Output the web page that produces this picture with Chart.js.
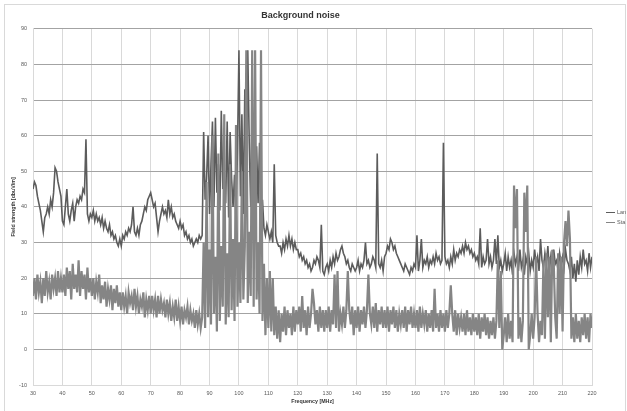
<!DOCTYPE html>
<html>
<head>
<meta charset="utf-8">
<script src="https://cdn.jsdelivr.net/npm/chart.js@4"></script>
<style>
  body { margin: 0; background: #fff; }
  canvas { display: block; }
</style>
</head>
<body>
<canvas id="noise" width="627" height="411"></canvas>
<script>
// Background noise scan, 30 - 220 MHz, one reading every 0.5 MHz
const freqStart = 30;
const freqStep = 0.5;

// "Lan" series, one row per 10 MHz
const lanValues = [
  45,47,46,43,41,39,36,33,37,38,40,38,42,40,44,51,50,47,45,43,   // 30
  36,35,40,45,38,36,39,41,36,40,42,41,43,42,45,44,59,38,36,38,   // 40
  37,39,36,38,36,37,35,37,34,36,34,33,35,32,33,31,32,30,29,31,   // 50
  29,32,31,33,32,34,33,35,40,33,32,34,32,35,36,38,40,39,42,43,   // 60
  44,42,40,41,37,33,36,38,40,38,39,37,42,38,40,37,38,36,35,34,   // 70
  36,34,35,32,33,31,32,30,31,29,30,31,30,32,31,32,61,42,48,60,   // 80
  38,52,64,40,65,44,52,39,67,45,48,41,64,37,61,48,40,49,36,56,   // 90
  84,43,66,38,73,45,84,58,40,69,47,54,57,41,58,37,42,34,32,35,   // 100
  33,31,33,30,52,32,30,29,29,27,30,28,31,29,32,29,31,28,30,28,   // 110
  28,26,27,25,26,24,25,23,24,22,23,25,24,26,25,23,35,22,21,23,   // 120
  24,22,25,23,26,24,27,25,26,28,29,27,26,24,25,23,22,24,23,22,   // 130
  23,25,22,24,23,25,30,24,25,23,24,26,25,23,55,24,23,25,22,26,   // 140
  27,29,28,31,30,28,29,27,26,25,24,23,22,24,23,22,21,23,22,24,   // 150
  23,32,22,25,31,23,25,24,26,23,25,24,26,24,27,25,26,24,25,58,   // 160
  26,24,25,23,26,24,28,25,27,26,28,27,29,27,30,28,29,27,28,26,   // 170
  27,25,26,24,34,23,26,24,25,31,24,26,23,25,31,24,32,23,25,22,   // 180
  24,27,22,26,23,25,21,27,24,26,22,28,23,25,21,26,24,27,22,25,   // 190
  23,28,24,26,22,31,25,23,27,24,29,22,26,23,28,24,25,22,27,24,   // 200
  26,23,28,25,24,22,26,20,24,19,25,21,26,23,28,24,25,22,27,23,   // 210
  26                                                             // 220
];

// "Sta" series
const staValues = [
  15,20,14,21,16,19,13,20,15,22,16,19,14,21,17,20,15,22,16,20,   // 30
  16,21,15,23,17,22,14,24,17,21,16,25,15,22,17,21,14,23,16,20,   // 40
  15,20,14,19,16,21,13,18,14,19,12,17,14,18,11,17,13,18,12,16,   // 50
  11,16,12,15,10,16,13,15,11,17,12,15,10,14,12,16,9,14,11,15,    // 60
  10,15,11,14,9,15,10,14,11,13,9,14,10,13,8,12,9,14,8,12,        // 70
  8,12,7,11,9,12,7,11,8,10,6,11,7,10,6,9,30,6,47,9,              // 80
  28,7,60,10,26,5,55,8,29,12,66,7,27,9,52,11,31,8,63,12,         // 90
  30,13,50,14,29,84,13,33,15,84,12,84,14,30,10,84,8,24,4,20,     // 100
  6,22,5,20,4,12,3,11,2,10,5,12,4,11,6,10,4,12,5,11,             // 110
  7,12,5,15,6,11,4,12,6,10,17,13,7,11,5,12,6,11,5,11,            // 120
  6,12,5,11,7,21,6,22,5,10,7,12,6,11,22,11,7,12,4,11,            // 130
  6,12,5,11,7,12,6,11,21,10,7,12,6,13,5,11,7,12,6,11,            // 140
  6,12,5,11,7,12,6,11,5,10,7,11,6,12,5,11,7,12,6,10,             // 150
  6,11,5,12,6,10,7,11,5,10,6,11,5,17,6,10,5,11,6,10,             // 160
  5,11,6,10,18,10,5,11,4,10,6,9,5,10,4,11,5,9,4,10,              // 170
  5,9,4,10,3,9,5,10,4,9,3,8,4,9,3,8,25,6,22,0,                   // 180
  4,9,2,10,3,8,2,46,34,45,3,9,2,8,44,33,46,0,4,10,               // 190
  3,9,26,10,2,8,4,25,3,27,9,26,2,28,24,9,3,27,10,26,             // 200
  5,30,36,29,39,31,3,9,2,10,3,8,2,9,4,10,3,9,2,10,               // 210
  6                                                              // 220
];

const seriesNames = ['Lan', 'Sta'];
const seriesColors = ['#5c5c5c', '#858585'];
const seriesWidths = [1.6, 2.2];

const freqs = lanValues.map((_, i) => freqStart + i * freqStep);
const toPoints = vals => vals.map((v, i) => ({ x: freqs[i], y: v }));

const labelFont = { family: 'Liberation Sans, Arial, sans-serif', size: 5.5 };
const titleFont = { family: 'Liberation Sans, Arial, sans-serif', size: 5.3, weight: 'bold' };

// thin frame round the whole chart + small legend on the right
const frameAndLegend = {
  id: 'frameAndLegend',
  afterDraw(chart) {
    const ctx = chart.ctx;
    ctx.save();
    ctx.strokeStyle = '#d9d9d9';
    ctx.lineWidth = 1;
    ctx.strokeRect(4.5, 4.5, 621, 410);

    ctx.font = '5.5px Liberation Sans, Arial, sans-serif';
    ctx.textBaseline = 'middle';
    ctx.fillStyle = '#595959';
    chart.data.datasets.forEach((ds, i) => {
      const y = 212.5 + i * 10;
      ctx.strokeStyle = ds.borderColor;
      ctx.lineWidth = 1;
      ctx.beginPath();
      ctx.moveTo(606, y);
      ctx.lineTo(615, y);
      ctx.stroke();
      ctx.fillText(ds.label, 617, y);
    });
    ctx.restore();
  }
};

new Chart(document.getElementById('noise'), {
  type: 'line',
  data: {
    datasets: [
      { label: seriesNames[0], data: toPoints(lanValues), borderColor: seriesColors[0], borderWidth: seriesWidths[0], order: 1 },
      { label: seriesNames[1], data: toPoints(staValues), borderColor: seriesColors[1], borderWidth: seriesWidths[1], order: 0 }
    ]
  },
  options: {
    responsive: false,
    animation: false,
    events: [],
    elements: {
      line: { tension: 0, borderJoinStyle: 'miter', borderCapStyle: 'butt' },
      point: { radius: 0 }
    },
    layout: { padding: { left: 9, right: 35, top: 0, bottom: 2 } },
    scales: {
      x: {
        type: 'linear',
        min: 30,
        max: 220,
        ticks: { stepSize: 10, padding: 5, color: '#595959', font: labelFont, maxRotation: 0 },
        grid: { color: '#d9d9d9', drawTicks: false },
        border: { color: '#d9d9d9' },
        title: { display: true, text: 'Frequency [MHz]', color: '#333', font: titleFont, padding: { top: 0, bottom: 4 } },
        afterFit(scale) { scale.height = 24; }
      },
      y: {
        min: -10,
        max: 90,
        ticks: { stepSize: 10, padding: 6, color: '#595959', font: labelFont },
        grid: {
          drawTicks: false,
          color: c => (c.tick && c.tick.value === -10 ? '#d9d9d9' : '#a3a3a3')
        },
        border: { color: '#d9d9d9' },
        title: { display: true, text: 'Field strength [dbuV/m]', color: '#333', font: titleFont, padding: { top: 1, bottom: 0 } },
        afterFit(scale) { scale.width = 24; }
      }
    },
    plugins: {
      legend: { display: false },
      tooltip: { enabled: false },
      title: {
        display: true,
        text: 'Background noise',
        color: '#333',
        font: { family: 'Liberation Sans, Arial, sans-serif', size: 9, weight: 'bold' },
        padding: { top: 10, bottom: 8 }
      }
    }
  },
  plugins: [frameAndLegend]
});
</script>
</body>
</html>
